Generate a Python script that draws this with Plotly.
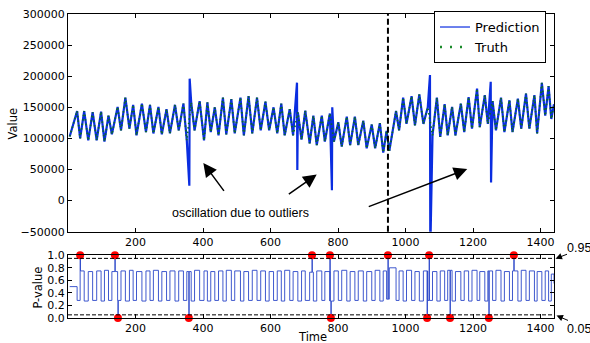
import plotly.graph_objects as go

# ---------------- data ----------------
truth_t = [5, 27, 36, 48, 60, 73, 85, 98, 108, 120,
           130, 147, 157, 170, 182, 193, 203, 219, 231, 243,
           253, 268, 278, 292, 302, 317, 328, 342, 352, 365,
           375, 390, 403, 413, 423, 435, 446, 459, 469, 484,
           494, 511, 521, 535, 546, 560, 571, 585, 596, 609,
           620, 632, 642, 657, 667, 681, 692, 703, 716, 727,
           737, 752, 761, 776, 788, 801, 811, 826, 836, 850,
           860, 875, 885, 900, 910, 924, 934, 944, 952, 972,
           981, 993, 1003, 1018, 1028, 1041, 1053, 1066, 1080, 1093,
           1103, 1116, 1125, 1138, 1148, 1164, 1174, 1187, 1197, 1212,
           1220, 1235, 1244, 1258, 1268, 1283, 1293, 1308, 1317, 1333,
           1343, 1357, 1367, 1382, 1390, 1404, 1414, 1424, 1432, 1440]

truth_v = [103000, 144000, 100000, 144000, 96700, 142000, 97000, 143000, 95000, 136500,
           106500, 150700, 113000, 165500, 115600, 154000, 105000, 156000, 110000, 154000,
           108000, 150700, 106500, 147000, 108000, 154000, 113000, 156000, 96700, 158000,
           113000, 160000, 96700, 158000, 110000, 150000, 105000, 165500, 106500, 163000,
           108000, 165500, 105000, 168000, 108000, 165500, 113000, 159000, 113000, 150000,
           108000, 156000, 105000, 147000, 105000, 142000, 98000, 144500, 92000, 136500,
           89200, 136500, 95000, 140000, 95000, 126000, 86700, 135000, 89200, 135000,
           89200, 128600, 84000, 122300, 84000, 124500, 77200, 112000, 80000, 144000,
           113000, 165500, 123400, 168000, 120800, 170700, 123400, 150000, 105000, 165500,
           102400, 155000, 105000, 150700, 105000, 156000, 110000, 166500, 115600, 180000,
           118200, 169600, 123400, 160000, 113000, 165500, 110000, 161300, 110000, 164000,
           115600, 172000, 115600, 169600, 108000, 189200, 136500, 184000, 131300, 155000]

# outlier spikes present only in the prediction
pred_spike_t = [359.5, 360.5, 678.5, 679.5, 782, 783, 1072.5, 1073.5, 1252.5, 1253.5]
pred_spike_v = [24000, 196000, 189600, 49300, 16700, 150000, 202000, -80000, 191000, 29000]

# p-value at each truth time (step series)
pvalue = [0.50, 0.28, 0.75, 0.27, 0.74, 0.28, 0.75, 0.27, 0.76, 0.28,
          0.74, 0.28, 0.75, 0.27, 0.76, 0.28, 0.74, 0.27, 0.75, 0.28,
          0.76, 0.27, 0.74, 0.28, 0.75, 0.27, 0.75, 0.28, 0.74, 0.27,
          0.76, 0.28, 0.75, 0.27, 0.74, 0.28, 0.75, 0.27, 0.76, 0.28,
          0.75, 0.27, 0.74, 0.28, 0.76, 0.28, 0.75, 0.27, 0.74, 0.28,
          0.75, 0.27, 0.76, 0.28, 0.74, 0.27, 0.75, 0.28, 0.73, 0.27,
          0.75, 0.28, 0.74, 0.27, 0.75, 0.28, 0.76, 0.27, 0.74, 0.28,
          0.75, 0.27, 0.74, 0.28, 0.76, 0.27, 0.75, 0.30, 0.80, 0.28,
          0.75, 0.27, 0.76, 0.28, 0.74, 0.27, 0.75, 0.28, 0.74, 0.27,
          0.75, 0.28, 0.76, 0.27, 0.74, 0.28, 0.75, 0.27, 0.76, 0.28,
          0.74, 0.27, 0.75, 0.28, 0.76, 0.27, 0.74, 0.28, 0.75, 0.27,
          0.76, 0.28, 0.75, 0.27, 0.74, 0.28, 0.75, 0.27, 0.70, 0.55]

# anomalous p-values (red dots)
anom_t = [36, 139, 148, 358, 723, 776, 779, 948, 1064, 1070, 1132, 1247, 1321]
anom_p = [1.0, 1.0, 0.0, 0.0, 1.0, 1.0, 0.0, 1.0, 0.0, 1.0, 0.0, 0.0, 1.0]

split_t = 948
thresholds = [0.95, 0.05]
x_ticks = [200, 400, 600, 800, 1000, 1200, 1400]
y_ticks = [-50000, 0, 50000, 100000, 150000, 200000, 250000, 300000]
p_ticks = [0.0, 0.2, 0.4, 0.6, 0.8, 1.0]

# ---------------- build series ----------------
pred = sorted(list(zip(truth_t, truth_v)) + list(zip(pred_spike_t, pred_spike_v)))
pred_t = [p[0] for p in pred]
pred_v = [p[1] for p in pred]

def level_at(t):
    lv = pvalue[0]
    for tt, vv in zip(truth_t, pvalue):
        if tt <= t:
            lv = vv
    return lv

pts = list(zip(truth_t, pvalue))
for t, v in zip(anom_t, anom_p):
    pts.append((t, v))
    pts.append((t + 1, level_at(t)))
pts.sort(key=lambda a: a[0])
pv_t = [a[0] for a in pts]
pv_v = [a[1] for a in pts]

# ---------------- figure ----------------
W, H = 590, 343
ML, MR, MT, MB = 68, 36, 8, 25
PW, PH = W - ML - MR, H - MT - MB
top_dom = [(318 - 230) / PH, 1.0]
bot_dom = [0.0, (318 - 254) / PH]

def px(x):
    return (x - ML) / PW

def py(y):
    return (H - MB - y) / PH

BLUE = "#0a2de0"
GREEN = "#0b6b26"
tick_font = dict(family="DejaVu Sans", size=11, color="black")

fig = go.Figure()
fig.add_trace(go.Scatter(x=pred_t, y=pred_v, mode="lines", showlegend=False,
                         line=dict(color=BLUE, width=2.2), xaxis="x", yaxis="y"))
fig.add_trace(go.Scatter(x=truth_t, y=truth_v, mode="lines", showlegend=False,
                         line=dict(color=GREEN, width=1.8, dash="1.5px,3px"), xaxis="x", yaxis="y"))
# legend entries
fig.add_trace(go.Scatter(x=[None], y=[None], mode="lines", name="Prediction",
                         line=dict(color=BLUE, width=1.2), xaxis="x", yaxis="y"))
fig.add_trace(go.Scatter(x=[None], y=[None], mode="lines", name="Truth",
                         line=dict(color="#1a8a2a", width=2.5, dash="2px,8px"), xaxis="x", yaxis="y"))

fig.add_trace(go.Scatter(x=pv_t, y=pv_v, mode="lines", showlegend=False,
                         line=dict(color="#2a46c8", width=0.9, shape="hv"),
                         xaxis="x2", yaxis="y2"))
fig.add_trace(go.Scatter(x=anom_t, y=anom_p, mode="markers", showlegend=False,
                         marker=dict(color="#ff0000", size=8, line=dict(width=0)),
                         cliponaxis=False, xaxis="x2", yaxis="y2"))

axis_common = dict(showline=True, linecolor="black", linewidth=1, mirror="allticks",
                   ticks="inside", ticklen=4, tickcolor="black", showgrid=False,
                   zeroline=False, tickfont=tick_font)

fig.update_layout(
    width=W, height=H,
    margin=dict(l=ML, r=MR, t=MT, b=MB, pad=0),
    paper_bgcolor="white", plot_bgcolor="white",
    xaxis=dict(domain=[0, 1], range=[0, 1440], anchor="y", tickvals=x_ticks, **axis_common),
    yaxis=dict(domain=top_dom, range=[-50001, 300001], anchor="x", tickvals=y_ticks,
               tickformat="d", **axis_common),
    xaxis2=dict(domain=[0, 1], range=[0, 1440], anchor="y2", tickvals=x_ticks, **axis_common),
    yaxis2=dict(domain=bot_dom, range=[-0.0001, 1.0001], anchor="x2", tickvals=p_ticks,
                tickformat=".1f", **axis_common),
    legend=dict(x=px(546), y=py(5), xanchor="right", yanchor="top",
                bgcolor="white", bordercolor="black", borderwidth=1,
                font=dict(family="DejaVu Sans", size=13, color="black"),
                tracegroupgap=0),
    showlegend=True,
)

shapes = [dict(type="line", xref="x", yref="y domain", x0=split_t, x1=split_t, y0=0, y1=1,
               line=dict(color="black", width=2, dash="6px,3px"))]
for th in thresholds:
    shapes.append(dict(type="line", xref="x2 domain", yref="y2", x0=0, x1=1, y0=th, y1=th,
                       line=dict(color="black", width=1, dash="4px,2px")))
fig.update_layout(shapes=shapes)

lab_font = dict(family="DejaVu Sans", size=11.5, color="black")
ann_font = dict(family="Liberation Sans", size=12.5, color="black")
centered = dict(xanchor="center", yanchor="middle", showarrow=False, xref="paper", yref="paper")
ann = [
    dict(text="Value", x=px(12.7), y=py(120), textangle=-90, font=lab_font, **centered),
    dict(text="P-value", x=px(38), y=py(287), textangle=-90, font=lab_font, **centered),
    dict(text="Time", x=px(312), y=py(337.5), font=lab_font, **centered),
    dict(text="oscillation due to outliers", x=px(240), y=py(211), font=ann_font, **centered),
    dict(text="0.95", x=px(579), y=py(246.7), font=ann_font, **centered),
    dict(text="0.05", x=px(579), y=py(329.3), font=ann_font, **centered),
]
arrow_style = dict(showarrow=True, arrowhead=2, arrowcolor="black", text="")
ann += [
    dict(xref="x", yref="y", x=401, y=60400, ax=21.7, ay=29.3, arrowwidth=1.5, arrowsize=1.8, **arrow_style),
    dict(xref="x", yref="y", x=737, y=41900, ax=-29.4, ay=20.6, arrowwidth=1.5, arrowsize=1.8, **arrow_style),
    dict(xref="x", yref="y", x=1183, y=50900, ax=-100, ay=38.3, arrowwidth=1.5, arrowsize=1.8, **arrow_style),
    dict(xref="paper", yref="paper", x=px(555.5), y=py(257.5), ax=13, ay=-5,
         arrowwidth=1, arrowsize=1.3, **arrow_style),
    dict(xref="paper", yref="paper", x=px(556.5), y=py(315.5), ax=13, ay=5.5,
         arrowwidth=1, arrowsize=1.3, **arrow_style),
]
fig.update_layout(annotations=ann)

fig.write_html("out.html", config={"displayModeBar": False},
               post_script="document.body.style.margin='0';")
